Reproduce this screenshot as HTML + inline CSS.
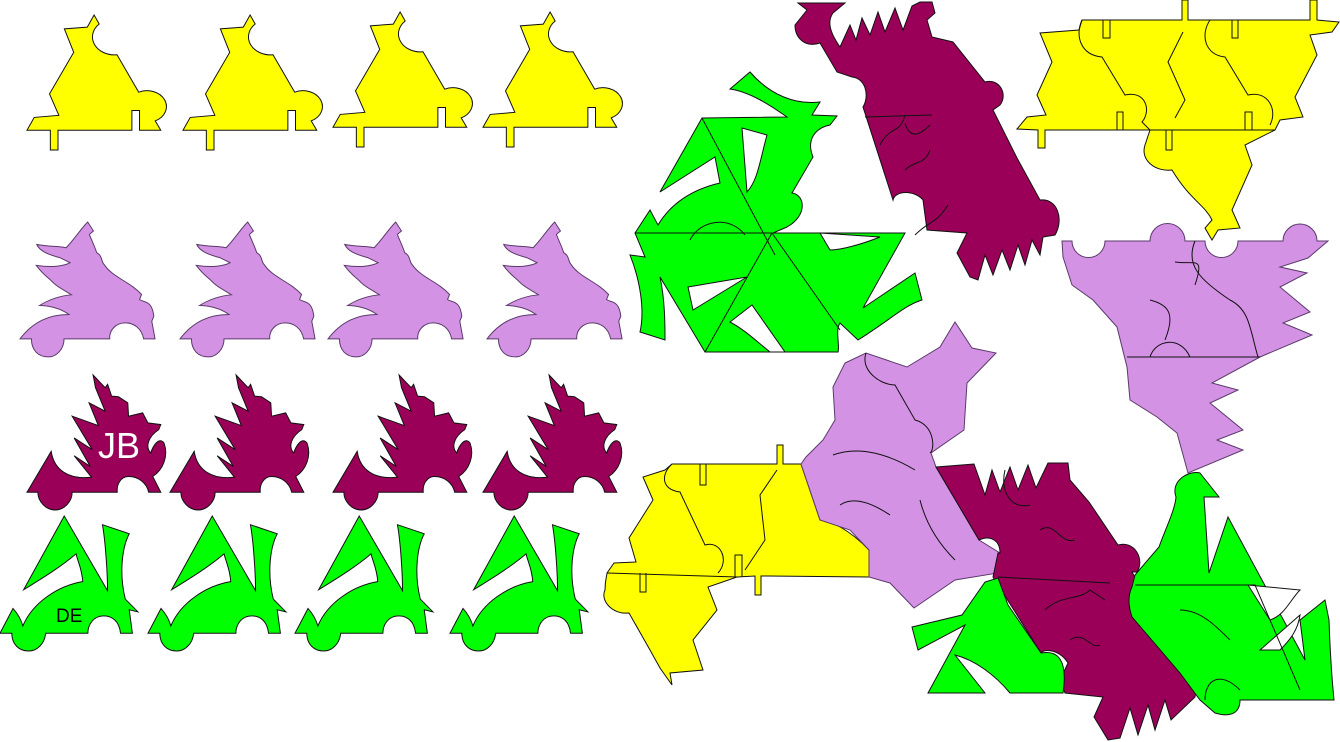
<!DOCTYPE html>
<html><head><meta charset="utf-8"><style>
html,body{margin:0;padding:0;background:#fff;width:1340px;height:742px;overflow:hidden}
svg{display:block}
.y{fill:#ffff00;stroke:#111;stroke-width:1}
.l{fill:#d492e4;stroke:#5b3a6b;stroke-width:1}
.p{fill:#9b0058;stroke:#111;stroke-width:1}
.g{fill:#00ff00;stroke:#111;stroke-width:1}
.h{fill:#fff;stroke:#111;stroke-width:1}
.ln{fill:none;stroke:#111;stroke-width:1}
path{vector-effect:non-scaling-stroke}
</style></head><body>
<svg width="1340" height="742" viewBox="0 0 1340 742">
<defs>
<path id="yel" d="M80,395 L97,358 L155,352 L133,290 L190,170 L168,102 L222,97 L238,62 L250,88 A52,52 0 0 0 292,177 L343,285 A38,38 0 1 1 382,368 L395,395 L345,395 L345,338 L327,338 L327,395 L153,395 L153,452 L135,452 L135,395 Z"/>
<path id="lav" d="M52,1018 C85,965 125,945 172,945 C150,925 120,918 100,918 C130,895 160,888 178,886 C160,872 140,860 132,848 C120,832 110,828 92,798 C130,805 160,800 175,790 L150,775 C120,765 100,755 93,735 C120,742 150,740 165,745 C185,720 200,690 218,668 L232,695 L222,705 C228,725 235,740 240,760 C255,770 250,785 258,795 C280,835 320,845 350,885 L345,900 C355,910 375,900 380,950 L375,965 L383,1018 L355,1018 C350,985 330,970 310,970 C285,970 270,995 272,1018 L160,1018 C160,1050 140,1072 122,1072 C95,1072 80,1050 80,1018 Z"/>
<path id="pur" d="M68,367 L128,245 C135,300 170,330 228,322 L185,258 L225,290 L185,205 L230,240 L180,140 L245,168 L222,100 L262,125 L238,55 L232,17 L262,55 L268,45 L278,80 L295,82 L318,100 L320,140 L355,130 L368,160 L400,165 L395,180 C370,200 360,230 375,250 C380,230 395,200 408,220 C420,260 405,300 380,320 L400,367 L370,367 C365,340 345,320 320,320 C300,320 290,345 292,367 L180,367 C180,395 160,420 138,420 C115,420 95,395 95,367 Z"/>
<path id="grn" d="M2,792 L35,718 C48,735 55,750 60,770 C85,700 150,650 212,638 C210,600 200,580 195,555 C160,590 120,620 62,662 L165,442 L275,665 C275,620 270,520 262,468 L330,495 C310,540 305,620 320,690 L352,728 L330,722 L338,792 L308,792 C305,760 290,740 265,740 C240,740 225,765 225,792 L118,792 C115,825 95,845 75,845 C50,845 32,825 32,792 Z"/>
</defs>

<g transform="translate(27,15) scale(0.4246,0.346) translate(-80,-62)"><use href="#yel" class="y"/></g>
<g transform="translate(183,15) scale(0.4246,0.346) translate(-80,-62)"><use href="#yel" class="y"/></g>
<g transform="translate(333,12) scale(0.4246,0.346) translate(-80,-62)"><use href="#yel" class="y"/></g>
<g transform="translate(483,12) scale(0.4246,0.346) translate(-80,-62)"><use href="#yel" class="y"/></g>

<g transform="translate(20,222) scale(0.408,0.334) translate(-52,-668)"><use href="#lav" class="l"/></g>
<g transform="translate(180,222) scale(0.408,0.334) translate(-52,-668)"><use href="#lav" class="l"/></g>
<g transform="translate(328,222) scale(0.408,0.334) translate(-52,-668)"><use href="#lav" class="l"/></g>
<g transform="translate(487,222) scale(0.408,0.334) translate(-52,-668)"><use href="#lav" class="l"/></g>

<g transform="translate(27,375) scale(0.403,0.335) translate(-68,-17)"><use href="#pur" class="p"/></g>
<g transform="translate(170,375) scale(0.403,0.335) translate(-68,-17)"><use href="#pur" class="p"/></g>
<g transform="translate(333,375) scale(0.403,0.335) translate(-68,-17)"><use href="#pur" class="p"/></g>
<g transform="translate(483,375) scale(0.403,0.335) translate(-68,-17)"><use href="#pur" class="p"/></g>
<text x="98" y="458" font-family="Liberation Sans, sans-serif" font-size="36" fill="#fff">JB</text>

<g transform="translate(0,516) scale(0.394,0.335) translate(-2,-442)"><use href="#grn" class="g"/></g>
<g transform="translate(148,516) scale(0.394,0.335) translate(-2,-442)"><use href="#grn" class="g"/></g>
<g transform="translate(295,516) scale(0.394,0.335) translate(-2,-442)"><use href="#grn" class="g"/></g>
<g transform="translate(450,516) scale(0.394,0.335) translate(-2,-442)"><use href="#grn" class="g"/></g>
<text x="56" y="622" font-family="Liberation Sans, sans-serif" font-size="19" fill="#000">DE</text>

<g>
<path class="g" d="M730,89 L750,72 C770,95 795,105 820,102 L812,115 L837,116 L830,125 C815,128 806,140 813,157 L792,193 C805,195 808,215 787,227 L773,233 L820,233 L905,233 L863,308 L915,273 L922,300 C905,305 890,320 858,340 L840,323 C835,330 840,345 838,352 L810,352 L788,352 L705,352 L660,277 C665,300 665,325 665,340 L640,332 C645,310 640,280 630,255 L645,257 L635,233 L650,210 L658,225 C670,205 690,190 720,183 L715,157 L660,192 L702,118 L787,117 C770,105 750,92 730,89 Z"/>
<path class="h" d="M742,128 L767,135 C760,160 758,180 747,192 Z"/>
<path class="h" d="M688,287 L747,277 L693,310 Z"/>
<path class="h" d="M820,233 L880,237 C860,245 840,250 830,250 Z"/>
<path class="h" d="M730,322 L752,305 L785,352 L770,352 C755,340 745,330 730,322 Z"/>
<path class="ln" d="M702,118 L775,255 M635,233 L772,233 L705,352 M772,233 L840,330 M690,240 C700,220 730,215 745,235"/>
</g>

<g>
<path class="p" d="M798,3 L845,3 L833,13 C828,20 828,30 840,47 L850,25 L856,40 L862,18 L870,35 L878,12 L885,32 L895,8 L903,30 L912,6 L920,2 L932,2 L935,13 L927,20 L932,37 L953,42 L985,82 C1000,78 1008,95 1000,105 L993,110 L1017,158 L1040,200 C1058,198 1064,220 1055,235 L1043,237 L1040,255 L1032,240 L1025,265 L1018,245 L1010,270 L1002,250 L993,275 L985,255 L978,280 L970,277 L957,253 L967,233 L927,230 L923,200 C915,190 895,190 893,200 L863,107 C870,95 865,78 852,77 L837,72 L820,43 C805,48 795,38 795,25 L807,10 Z"/>
<path class="ln" d="M865,117 L932,115 M905,170 C915,160 925,165 930,150 M880,145 C890,125 900,135 905,115 M915,235 C930,220 935,225 948,205 M905,123 C910,140 920,135 930,125"/>
</g>

<g>
<path class="y" d="M1017,129 L1027,117 L1046,115 L1037,95 L1052,62 L1040,33 L1079,30 L1082,20 L1182,20 L1182,0 L1188,0 L1188,20 L1310,20 L1310,0 L1317,0 L1317,20 L1339,22 L1332,32 L1310,35 L1317,55 L1295,97 L1303,117 L1280,120 L1275,130 L1245,145 L1252,165 L1232,210 L1240,228 L1218,230 L1212,240 L1205,228 L1212,220 C1205,205 1190,200 1172,170 C1155,172 1140,160 1145,145 L1150,130 L1045,130 L1045,148 L1038,148 L1038,130 Z"/>
<path class="ln" d="M1082,20 C1075,35 1080,55 1102,57 L1125,95 C1145,90 1152,110 1142,122 L1150,130 M1150,130 L1275,130 M1210,20 C1200,35 1205,55 1225,57 L1248,95 C1268,90 1278,110 1270,125 M1183,32 L1168,62 L1185,100 L1175,118 M1103,20 L1103,38 L1110,38 L1110,20 M1232,20 L1232,38 L1238,38 L1238,20 M1117,130 L1117,112 L1123,112 L1123,130 M1245,130 L1245,112 L1252,112 L1252,130 M1166,130 L1166,150 L1172,150 L1172,130"/>
</g>

<g>
<path class="l" d="M1062,241 L1072,241 A16,16 0 0 0 1105,241 L1150,241 A17,17 0 0 1 1185,241 L1205,241 A16,16 0 0 0 1238,241 L1283,241 A17,17 0 0 1 1317,241 L1328,241 L1308,258 L1280,267 L1307,273 L1280,287 L1310,312 L1283,323 L1312,335 L1260,357 L1212,383 L1238,390 L1210,403 L1243,430 L1217,440 L1243,450 L1188,473 L1177,433 L1157,417 L1130,400 L1127,367 L1117,327 L1093,300 L1072,285 L1063,257 Z"/>
<path class="ln" d="M1127,357 L1260,357 M1195,241 C1185,265 1200,280 1230,300 C1250,310 1250,330 1258,357 M1150,357 C1155,340 1180,335 1190,357 M1175,262 C1195,265 1205,255 1195,285 M1150,300 C1170,305 1175,315 1165,340"/>
</g>

<g>
<path class="y" d="M614,563 L636,562 L629,538 L653,500 L643,477 L665,470 L672,464 L777,464 L777,445 L783,445 L783,464 L801,464 L820,520 C830,520 850,530 869,550 L869,577 L768,576 L761,576 L761,595 L755,595 L755,576 L737,577 L708,587 L717,610 L693,640 L703,670 L670,673 L672,685 L660,668 L650,650 L629,613 C612,615 600,600 605,590 C605,580 607,575 607,573 Z"/>
<path class="ln" d="M607,573 L737,577 M672,464 C660,475 662,490 680,492 L705,545 C720,540 730,560 718,573 M777,470 L760,495 L765,540 L745,570 M700,464 L700,485 L706,485 L706,464 M640,573 L640,592 L646,592 L646,573 M735,577 L735,555 L742,555 L742,577"/>
</g>

<g>
<path class="l" d="M801,464 L806,457 L823,440 L835,420 L833,387 L845,363 L866,353 L907,367 L940,347 L955,322 L972,348 L996,353 L967,383 L964,430 L931,453 L936,467 L979,540 L1000,553 L998,573 L955,580 L936,593 L914,608 L890,583 L869,577 L869,550 L850,530 L820,520 Z"/>
<path class="ln" d="M866,353 C860,370 880,385 895,385 L915,420 C935,425 935,450 930,453 M833,455 C860,445 890,455 915,470 M840,505 C855,495 875,505 890,515 M920,500 C925,520 935,540 955,560"/>
</g>

<g>
<path class="p" d="M936,467 L974,464 L985,495 L992,470 L1000,492 L1010,467 L1018,490 L1028,465 L1036,488 L1048,463 L1068,463 L1070,480 L1089,502 L1118,545 C1135,540 1145,560 1137,572 L1132,572 L1175,650 C1195,648 1200,670 1195,697 L1171,720 L1165,700 L1155,730 L1148,705 L1138,735 L1130,708 L1120,738 L1108,740 L1094,717 L1103,697 L1065,693 L1060,680 L1068,663 C1060,650 1045,648 1041,653 L993,577 L998,553 L1000,553 C1000,540 990,535 979,540 Z"/>
<path class="ln" d="M998,577 L1110,583 M1040,530 C1055,520 1060,545 1075,540 M1070,640 C1085,630 1090,650 1100,645 M1045,610 C1060,595 1080,600 1090,590 L1105,600 M1005,470 C1000,490 1010,510 1030,505"/>
</g>

<g>
<path class="g" d="M1135,575 L1159,547 C1165,530 1175,510 1176,497 C1170,480 1190,470 1200,473 L1219,497 L1204,497 L1209,573 L1228,517 L1305,660 L1300,620 L1325,600 L1329,620 C1330,650 1332,680 1334,700 L1319,700 L1240,700 C1240,715 1228,717 1215,713 L1200,700 L1180,673 L1132,617 C1128,605 1128,595 1132,587 Z"/>
<path class="h" d="M1248,585 L1300,590 C1290,600 1285,615 1270,620 Z"/>
<path class="h" d="M1260,650 L1300,615 C1298,630 1290,640 1280,650 Z"/>
<path class="ln" d="M1135,585 L1255,585 L1300,690 M1180,610 C1200,610 1215,625 1230,640 M1205,700 C1205,680 1220,670 1240,690"/>
</g>

<g>
<path class="g" d="M912,627 L962,615 L985,582 L998,578 L1008,605 L1041,653 C1058,650 1068,660 1063,693 L1040,693 L1010,693 C995,675 975,660 955,655 L985,693 L928,693 L965,625 L918,650 Z"/>
</g>
</svg>
</body></html>
